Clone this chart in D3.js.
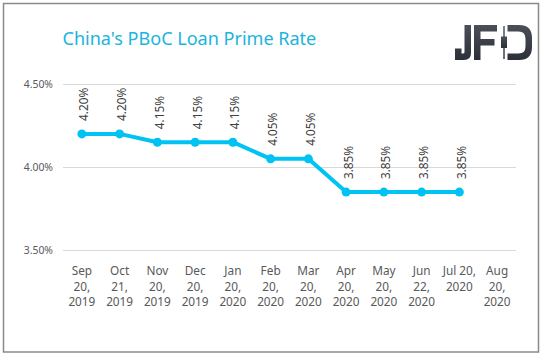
<!DOCTYPE html>
<html>
<head>
<meta charset="utf-8">
<script src="https://cdn.jsdelivr.net/npm/d3@7"></script>
<style>
  html, body { margin: 0; padding: 0; background: #fff; }
  svg { display: block; }
</style>
</head>
<body>
<svg id="chart" width="543" height="357"></svg>
<script>
// ---- Data ----
const title = "China's PBoC Loan Prime Rate";
const categoryLines = [
  ["Sep", "20,", "2019"],
  ["Oct", "21,", "2019"],
  ["Nov", "20,", "2019"],
  ["Dec", "20,", "2019"],
  ["Jan", "20,", "2020"],
  ["Feb", "20,", "2020"],
  ["Mar", "20,", "2020"],
  ["Apr", "20,", "2020"],
  ["May", "20,", "2020"],
  ["Jun", "22,", "2020"],
  ["Jul 20,", "2020"],
  ["Aug", "20,", "2020"]
];
const categories = ["Sep 20, 2019","Oct 21, 2019","Nov 20, 2019","Dec 20, 2019","Jan 20, 2020","Feb 20, 2020","Mar 20, 2020","Apr 20, 2020","May 20, 2020","Jun 22, 2020","Jul 20, 2020","Aug 20, 2020"];
const rates = [4.20, 4.20, 4.15, 4.15, 4.15, 4.05, 4.05, 3.85, 3.85, 3.85, 3.85, null];
const yTicks = [3.50, 4.00, 4.50];

// ---- Layout ----
const svg = d3.select("#chart");
const font = "'Noto Sans', 'Open Sans', sans-serif";
const plot = { left: 63, right: 516, top: 84, bottom: 250.3 };

// Outer border
svg.append("rect")
  .attr("x", 3.5).attr("y", 3.5).attr("width", 535).attr("height", 348.5)
  .attr("fill", "#fff").attr("stroke", "#8a8a8a").attr("stroke-width", 1.5);

// Title (fit to reference width)
const t = svg.append("text")
  .attr("x", 62.5).attr("y", 44.5)
  .attr("font-family", font).attr("font-size", 20)
  .attr("fill", "#1cb4de")
  .text(title);
const tw = t.node().getComputedTextLength();
t.attr("font-size", 20 * 254 / tw);

// Logo (JFD mark drawn as shapes)
const defs = svg.append("defs");
const grad = defs.append("linearGradient").attr("id", "logoGrad")
  .attr("x1", 0).attr("y1", 0).attr("x2", 0).attr("y2", 1);
grad.append("stop").attr("offset", "0%").attr("stop-color", "#4a4f58");
grad.append("stop").attr("offset", "100%").attr("stop-color", "#2c3038");
const logo = svg.append("g").attr("fill", "url(#logoGrad)");
// J
logo.append("path").attr("d",
  "M464.5 25 H471 V53 Q471 60 464 60 H455 V48.5 H461.5 V53.5 H463 Q464.5 53.5 464.5 52 Z");
// F
logo.append("path").attr("d",
  "M474 25 H497 V31.5 H480.5 V39 H494.5 V45.5 H480.5 V60 H474 Z");
// candlestick
logo.append("rect").attr("x", 503.3).attr("y", 26).attr("width", 1.4).attr("height", 33);
logo.append("rect").attr("x", 501).attr("y", 36.5).attr("width", 6).attr("height", 11.5);
// D (open on the left)
logo.append("path").attr("d",
  "M507.5 25 H519 Q532 25 532 38 V47 Q532 60 519 60 H507.5 V53.5 H518.5 Q525.5 53.5 525.5 46.5 V38.5 Q525.5 31.5 518.5 31.5 H507.5 Z");

// Scales
const x = d3.scaleBand().domain(categories).range([plot.left, plot.right]).padding(0);
const y = d3.scaleLinear().domain([3.5, 4.5]).range([plot.bottom, plot.top]);

// Gridlines
svg.append("g").selectAll("line").data(yTicks).join("line")
  .attr("x1", plot.left).attr("x2", plot.right)
  .attr("y1", d => Math.round(y(d)) + 0.5).attr("y2", d => Math.round(y(d)) + 0.5)
  .attr("stroke", "#d9d9d9").attr("stroke-width", 1);

// Y tick labels
svg.append("g").selectAll("text").data(yTicks).join("text")
  .attr("x", 53).attr("y", d => y(d)).attr("dy", "0.35em")
  .attr("text-anchor", "end")
  .attr("font-family", font).attr("font-size", 10.4)
  .attr("fill", "#595959")
  .text(d => d3.format(".2f")(d) + "%");

// X category labels
const xl = svg.append("g").selectAll("text").data(categories).join("text")
  .attr("text-anchor", "middle")
  .attr("font-family", font).attr("font-size", 11.8)
  .attr("fill", "#595959")
  .attr("transform", d => `translate(${x(d) + x.bandwidth() / 2},0)`);
xl.each(function(d, i) {
  d3.select(this).selectAll("tspan").data(categoryLines[i]).join("tspan")
    .attr("x", 0).attr("y", (s, j) => 275 + j * 15.5)
    .text(s => s);
});

// Line
const pts = categories.map((c, i) => ({ c, v: rates[i] })).filter(d => d.v != null);
const line = d3.line().x(d => x(d.c) + x.bandwidth() / 2).y(d => y(d.v));
svg.append("path").datum(pts)
  .attr("d", line).attr("fill", "none")
  .attr("stroke", "#00c2f3").attr("stroke-width", 4).attr("stroke-linejoin", "round");

svg.append("g").selectAll("circle").data(pts).join("circle")
  .attr("cx", d => x(d.c) + x.bandwidth() / 2).attr("cy", d => y(d.v))
  .attr("r", 4.5).attr("fill", "#00c2f3");

// Data labels
svg.append("g").selectAll("text").data(pts).join("text")
  .attr("transform", d => `translate(${x(d.c) + x.bandwidth() / 2 + 6.5},${y(d.v) - 13}) rotate(-90)`)
  .attr("text-anchor", "start")
  .attr("font-family", font).attr("font-size", 11.8)
  .attr("fill", "#404040")
  .text(d => d3.format(".2f")(d.v) + "%");
</script>
</body>
</html>
